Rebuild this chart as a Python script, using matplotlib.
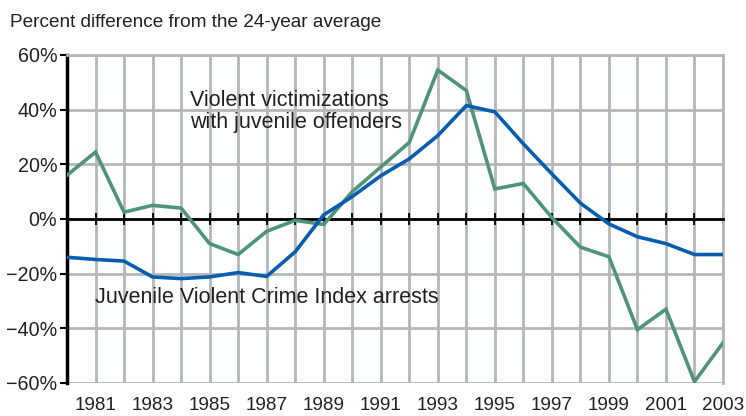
import numpy as np
import matplotlib
matplotlib.use("Agg")
import matplotlib.pyplot as plt
from matplotlib.ticker import FuncFormatter

plt.rcParams['font.family'] = ['Liberation Sans', 'DejaVu Sans']

# === Data ===
years = list(range(1980, 2004))
victimizations = [16, 24.5, 2.5, 5, 4, -9, -13, -4.5, -0.5, -2, 10, 19,
                  28, 54.5, 47, 11, 13, 0.5, -10.3, -13.8, -40.5, -33, -59.5, -45.3]
arrests = [-14, -14.8, -15.4, -21.2, -21.8, -21.2, -19.6, -21, -12, 1.5, 8.2, 15.8,
           22, 30.5, 41.5, 39.2, 27.5, 16.5, 5.8, -1.8, -6.5, -9, -13, -13]
y_ticks = [-60, -40, -20, 0, 20, 40, 60]
label_years = list(range(1981, 2004, 2))

green = "#4f9479"
blue = "#065db0"
grid_gray = "#b4b7ba"
text_col = "#231f20"

fig = plt.figure(figsize=(7.46, 4.16), dpi=100)
ax = fig.add_axes([67 / 746, 1 - 383 / 416, (723 - 67) / 746, (383 - 55) / 416])

# gridlines
for yr in years:
    ax.axvline(yr, color=grid_gray, lw=2, zorder=1)
for yv in y_ticks:
    ax.axhline(yv, color=grid_gray, lw=2, zorder=1)

ax.plot(years, victimizations, color=green, lw=2.6, zorder=4, solid_joinstyle="miter")
ax.plot(years, arrests, color=blue, lw=2.6, zorder=5, solid_joinstyle="miter")

ax.set_xlim(1980, 2003)
ax.set_ylim(-60, 60)

# zero line with tick marks
ax.spines['bottom'].set_position(('data', 0))
ax.spines['bottom'].set_color("black")
ax.spines['bottom'].set_linewidth(2)
ax.spines['bottom'].set_zorder(3)
ax.set_xticks(years)
ax.tick_params(axis='x', direction='inout', length=8, width=1.3, color="black",
               labelbottom=False)

# left axis
ax.spines['left'].set_linewidth(2.5)
ax.spines['left'].set_color("black")
ax.spines['top'].set_color(grid_gray)
ax.spines['right'].set_color(grid_gray)
ax.spines['top'].set_linewidth(2)
ax.spines['right'].set_linewidth(2)
ax.set_yticks(y_ticks)
ax.yaxis.set_major_formatter(FuncFormatter(lambda v, p: f"{int(v)}%".replace("-", "\u2212")))
ax.tick_params(axis='y', direction='out', length=5, width=1.5, color="black",
               labelsize=14.2, labelcolor=text_col, pad=2)

# year labels at bottom
sec = ax.secondary_xaxis(location=-60, transform=ax.transData)
sec.set_xticks(label_years)
sec.set_xticklabels([str(y) for y in label_years])
sec.tick_params(length=0, labelsize=13.6, labelcolor=text_col, pad=10)
sec.spines['bottom'].set_visible(False)

fig.text(10 / 746, 1 - 27 / 416, "Percent difference from the 24-year average",
         fontsize=13.7, color=text_col, va="baseline", ha="left")

ax.text(1984.3, 39.3, "Violent victimizations\nwith juvenile offenders",
        fontsize=15.5, color=text_col, va="center", ha="left", linespacing=1.1, zorder=6)
ax.text(1980.98, -28.8, "Juvenile Violent Crime Index arrests",
        fontsize=15.5, color=text_col, va="center", ha="left", zorder=6)

fig.savefig("out.png", dpi=100)
